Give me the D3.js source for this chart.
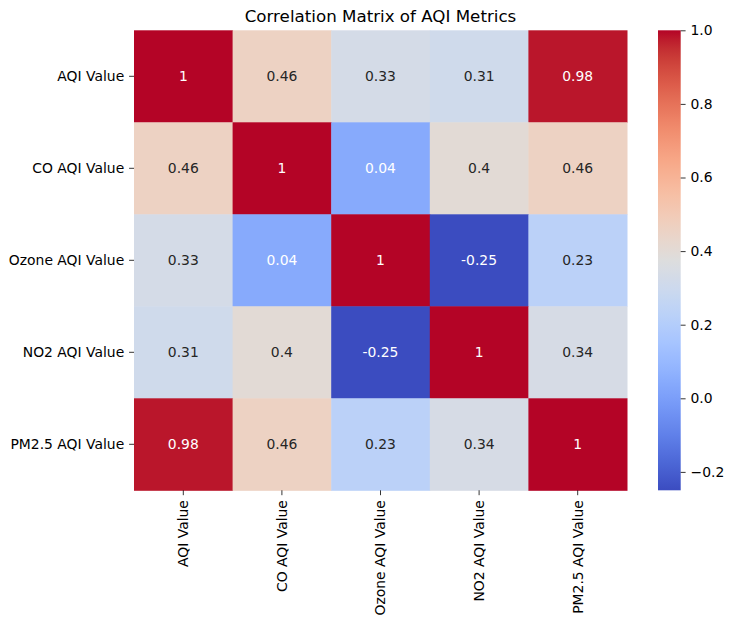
<!DOCTYPE html>
<html>
<head>
<meta charset="utf-8">
<script src="https://cdn.jsdelivr.net/npm/d3@7"></script>
<style>
  body { margin: 0; background: #fff; }
  text { font-family: "DejaVu Sans", sans-serif; }
</style>
</head>
<body>
<div id="chart"></div>
<script>
// metric names (rows and columns)
const metrics = ["AQI Value", "CO AQI Value", "Ozone AQI Value", "NO2 AQI Value", "PM2.5 AQI Value"];

// correlation values, one row per metric
const rowAQI   = [1, 0.46, 0.33, 0.31, 0.98];
const rowCO    = [0.46, 1, 0.04, 0.4, 0.46];
const rowOzone = [0.33, 0.04, 1, -0.25, 0.23];
const rowNO2   = [0.31, 0.4, -0.25, 1, 0.34];
const rowPM25  = [0.98, 0.46, 0.23, 0.34, 1];
const rows = [rowAQI, rowCO, rowOzone, rowNO2, rowPM25];

const colorbarTicks = [-0.2, 0, 0.2, 0.4, 0.6, 0.8, 1.0];
const vmin = -0.25, vmax = 1;

// matplotlib "coolwarm" control colours
const coolwarm = [
  [59,76,192],[68,90,204],[77,104,215],[87,117,225],[98,130,234],[108,142,241],
  [119,154,247],[130,165,251],[141,176,254],[152,185,255],[163,194,255],[174,201,253],
  [184,208,249],[194,213,244],[204,217,238],[213,219,230],[221,221,221],[229,216,209],
  [236,211,197],[241,204,184],[245,196,172],[247,187,159],[247,177,147],[247,166,134],
  [244,154,123],[241,141,111],[236,127,99],[229,112,88],[222,96,77],[213,80,66],
  [203,62,56],[192,40,47],[180,4,38]
].map(c => d3.rgb(c[0], c[1], c[2]).toString());

const interp = d3.interpolateRgbBasis(coolwarm);
// basis smooths too much, use piecewise linear instead
const cw = d3.piecewise(d3.interpolateRgb, coolwarm);
const color = d3.scaleSequential(cw).domain([vmin, vmax]);

const W = 732, H = 623;
const margin = {left: 134, top: 30.3, right: 627, bottom: 490.3};

const svg = d3.select("#chart").append("svg")
    .attr("width", W)
    .attr("height", H);

const x = d3.scaleBand().domain(metrics).range([margin.left, margin.right]);
const y = d3.scaleBand().domain(metrics).range([margin.top, margin.bottom]);

// flatten into cells
const cells = [];
rows.forEach((r, i) => r.forEach((v, j) => cells.push({row: metrics[i], col: metrics[j], value: v})));

svg.append("g").selectAll("rect")
    .data(cells)
    .enter()
    .append("rect")
    .attr("x", d => x(d.col))
    .attr("y", d => y(d.row))
    .attr("width", x.bandwidth() + 0.5)
    .attr("height", y.bandwidth() + 0.5)
    .attr("fill", d => color(d.value));

function luminance(c) {
    const rgb = d3.rgb(c);
    const f = v => { v /= 255; return v <= 0.03928 ? v / 12.92 : Math.pow((v + 0.055) / 1.055, 2.4); };
    return 0.2126 * f(rgb.r) + 0.7152 * f(rgb.g) + 0.0722 * f(rgb.b);
}

svg.append("g").selectAll("text")
    .data(cells)
    .enter()
    .append("text")
    .attr("x", d => x(d.col) + x.bandwidth() / 2)
    .attr("y", d => y(d.row) + y.bandwidth() / 2)
    .attr("text-anchor", "middle")
    .attr("dominant-baseline", "central")
    .attr("font-size", "13.9px")
    .attr("fill", d => luminance(color(d.value)) > 0.45 ? "#262626" : "#fff")
    .text(d => String(d.value));

// axes
const yAxis = svg.append("g")
    .attr("transform", `translate(${margin.left},0)`)
    .call(d3.axisLeft(y).tickSize(4.9).tickPadding(4.9));
yAxis.select(".domain").remove();
yAxis.selectAll("text").attr("font-size", "13.9px").attr("fill", "#000").style("font-family", "DejaVu Sans");
yAxis.selectAll("line").attr("stroke", "#000").attr("stroke-width", 0.8);

const xAxis = svg.append("g")
    .attr("transform", `translate(0,${margin.bottom})`)
    .call(d3.axisBottom(x).tickSize(4.9).tickPadding(4.9));
xAxis.select(".domain").remove();
xAxis.selectAll("line").attr("stroke", "#000").attr("stroke-width", 0.8);
xAxis.selectAll("text")
    .attr("font-size", "13.9px")
    .attr("fill", "#000")
    .style("font-family", "DejaVu Sans")
    .attr("transform", "rotate(-90)")
    .attr("x", -9.8)
    .attr("y", 0)
    .attr("dy", "0.35em")
    .attr("text-anchor", "end");

// title
svg.append("text")
    .attr("x", (margin.left + margin.right) / 2)
    .attr("y", 22)
    .attr("text-anchor", "middle")
    .attr("font-size", "16.7px")
    .attr("fill", "#000")
    .text("Correlation Matrix of AQI Metrics");

// colorbar
const cbX = 658, cbW = 22.7;
const cbScale = d3.scaleLinear().domain([vmin, vmax]).range([margin.bottom, margin.top]);

const defs = svg.append("defs");
const grad = defs.append("linearGradient")
    .attr("id", "cbgrad")
    .attr("x1", 0).attr("y1", 1).attr("x2", 0).attr("y2", 0);
d3.range(0, 1.0001, 0.02).forEach(t => {
    grad.append("stop")
        .attr("offset", t)
        .attr("stop-color", color(vmin + t * (vmax - vmin)));
});

svg.append("rect")
    .attr("x", cbX)
    .attr("y", margin.top)
    .attr("width", cbW)
    .attr("height", margin.bottom - margin.top)
    .attr("fill", "url(#cbgrad)");

const cbAxis = svg.append("g")
    .attr("transform", `translate(${cbX + cbW},0)`)
    .call(d3.axisRight(cbScale).tickValues(colorbarTicks).tickSize(4.9).tickPadding(4.9)
        .tickFormat(d => d3.format(".1f")(d).replace("-", "\u2212")));
cbAxis.select(".domain").remove();
cbAxis.selectAll("line").attr("stroke", "#000").attr("stroke-width", 0.8);
cbAxis.selectAll("text").attr("font-size", "13.9px").attr("fill", "#000").style("font-family", "DejaVu Sans");
</script>
</body>
</html>
